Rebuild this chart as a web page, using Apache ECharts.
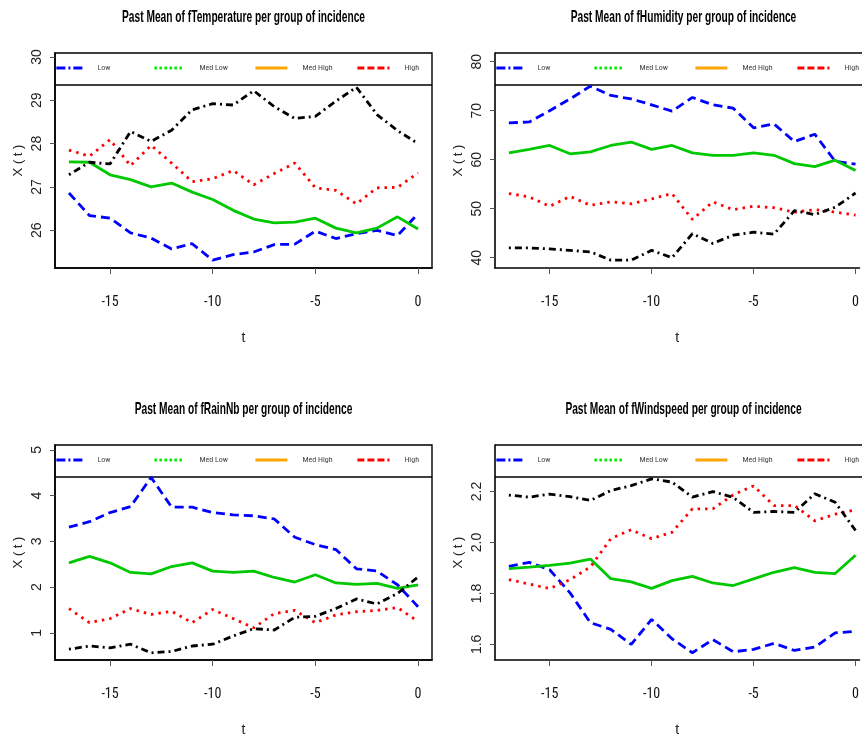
<!DOCTYPE html>
<html>
<head>
<meta charset="utf-8">
<script src="https://cdn.jsdelivr.net/npm/echarts@6/dist/echarts.min.js"></script>
<style>
html,body{margin:0;padding:0;background:#fff;overflow:hidden;}
#chart{width:862px;height:738px;}
</style>
</head>
<body>
<div id="chart"></div>
<script>
// ---- data ----
const tValues = [-17,-16,-15,-14,-13,-12,-11,-10,-9,-8,-7,-6,-5,-4,-3,-2,-1,0];
const xTicks = [-15,-10,-5,0];
const groupNames = ['Low','Med Low','Med High','High'];

const temperatureLow     = [26.86,26.34,26.28,25.94,25.82,25.57,25.69,25.31,25.44,25.50,25.67,25.68,25.98,25.81,25.92,26.00,25.88,26.38];
const temperatureMedLow  = [27.58,27.57,27.28,27.17,27.00,27.09,26.88,26.71,26.46,26.26,26.17,26.19,26.28,26.05,25.94,26.05,26.31,26.03];
const temperatureMedHigh = [27.85,27.71,28.09,27.49,27.96,27.55,27.12,27.19,27.38,27.05,27.31,27.55,26.98,26.92,26.61,26.98,26.99,27.32];
const temperatureHigh    = [27.28,27.57,27.53,28.28,28.05,28.31,28.78,28.92,28.89,29.22,28.85,28.58,28.63,28.98,29.30,28.67,28.30,28.00];
const temperatureTicks   = [26,27,28,29,30];

const humidityLow     = [67.5,67.7,70.0,72.4,75.0,73.1,72.4,71.2,69.9,72.7,71.2,70.5,66.5,67.3,63.7,65.2,59.7,59.1];
const humidityMedLow  = [61.4,62.1,62.9,61.2,61.6,62.9,63.6,62.1,62.9,61.4,60.9,60.9,61.4,60.9,59.2,58.6,59.9,57.8];
const humidityMedHigh = [53.1,52.4,50.5,52.5,50.7,51.4,51.0,52.0,53.1,47.8,51.4,49.8,50.5,50.2,49.3,49.8,49.3,48.7];
const humidityHigh    = [42.0,42.0,41.8,41.5,41.2,39.5,39.5,41.5,40.0,44.9,42.9,44.6,45.2,44.8,49.6,48.8,50.3,53.2];
const humidityTicks   = [40,50,60,70,80];

const rainLow     = [3.31,3.43,3.63,3.76,4.40,3.75,3.75,3.63,3.58,3.56,3.49,3.09,2.93,2.82,2.40,2.35,2.05,1.57];
const rainMedLow  = [2.53,2.67,2.53,2.32,2.29,2.45,2.53,2.35,2.32,2.35,2.21,2.11,2.27,2.09,2.06,2.08,1.97,2.05];
const rainMedHigh = [1.53,1.22,1.31,1.53,1.40,1.47,1.22,1.51,1.31,1.11,1.42,1.49,1.22,1.39,1.46,1.49,1.55,1.25];
const rainHigh    = [0.64,0.71,0.67,0.75,0.56,0.59,0.71,0.75,0.93,1.09,1.06,1.34,1.36,1.53,1.74,1.63,1.86,2.22];
const rainTicks   = [1,2,3,4,5];

const windLow     = [1.906,1.922,1.893,1.802,1.685,1.659,1.600,1.698,1.622,1.567,1.619,1.571,1.580,1.604,1.576,1.589,1.645,1.651];
const windMedLow  = [1.897,1.903,1.910,1.919,1.935,1.858,1.845,1.820,1.850,1.867,1.841,1.831,1.857,1.883,1.901,1.883,1.878,1.950];
const windMedHigh = [1.854,1.837,1.819,1.854,1.904,2.015,2.050,2.015,2.040,2.132,2.132,2.187,2.222,2.145,2.145,2.085,2.111,2.128];
const windHigh    = [2.186,2.178,2.190,2.180,2.165,2.204,2.223,2.250,2.237,2.178,2.200,2.177,2.118,2.122,2.118,2.191,2.158,2.047];
const windTicks   = [1.6,1.8,2.0,2.2];

// ---- layout / styles ----
const FONT = '"Liberation Sans",Arial,sans-serif';
const CFONT = '"Roboto Condensed","Liberation Sans",sans-serif';
const CHART_W = 862;
const X_MIN = -17.68, X_MAX = 0.68;
const GW = 377, GH = 215, LEG_H = 32;
const panels = [
  {title:'Past Mean of fTemperature per group of incidence', series:[temperatureLow,temperatureMedLow,temperatureMedHigh,temperatureHigh], ticks:temperatureTicks, ymin:25.13, ymax:30.09, dec:0, left:55, top:53, titleY:17.5},
  {title:'Past Mean of fHumidity per group of incidence', series:[humidityLow,humidityMedLow,humidityMedHigh,humidityHigh], ticks:humidityTicks, ymin:37.9, ymax:81.77, dec:0, left:495, top:53, titleY:17.5},
  {title:'Past Mean of fRainNb per group of incidence', series:[rainLow,rainMedLow,rainMedHigh,rainHigh], ticks:rainTicks, ymin:0.404, ymax:5.109, dec:0, left:55, top:445, titleY:409.5},
  {title:'Past Mean of fWindspeed per group of incidence', series:[windLow,windMedLow,windMedHigh,windHigh], ticks:windTicks, ymin:1.5386, ymax:2.3827, dec:1, left:495, top:445, titleY:409.5}
];
const LW = 2.8;
const lineStyles = [
  {color:'#0000FF', type:[9,5]},
  {color:'#00C800', type:'solid'},
  {color:'#FF0000', type:[2.5,5]},
  {color:'#000000', type:[2,4,7,4]}
];
const legendStyles = [
  {color:'#0000FF', type:[9,3,2,3], offset:0, width:26},
  {color:'#00EE00', type:[2.5,2.5], offset:98, width:30},
  {color:'#FFA500', type:'solid', offset:199, width:32},
  {color:'#FF0000', type:[7,3], offset:301, width:32}
];

const option = {
  animation:false,
  backgroundColor:'#fff',
  grid:[], xAxis:[], yAxis:[], series:[], legend:[], graphic:[]
};

panels.forEach((p, i) => {
  // the plot frame may run past the page edge (as in the reference): keep the scale, clip the view
  const visW = Math.min(GW, CHART_W - p.left);
  const clipped = visW < GW;
  const xMax = X_MIN + (X_MAX - X_MIN) * visW / GW;

  option.graphic.push({
    type:'text', x:p.left + GW/2, y:p.titleY, scaleX:0.6, silent:true,
    style:{text:p.title, fill:'#000', font:'bold 17px ' + FONT, textAlign:'center', textVerticalAlign:'middle'}
  });
  option.grid.push({left:p.left, top:p.top, width:visW, height:GH, show:!clipped, borderColor:'#000', borderWidth:1.4, backgroundColor:'transparent'});
  option.xAxis.push({
    type:'value', gridIndex:i, min:X_MIN, max:xMax,
    name:'t', nameLocation:'middle', nameGap:63,
    nameTextStyle:{fontFamily:FONT, fontSize:14, color:'#222'},
    axisLine:{show:true, onZero:false, lineStyle:{color:'#000', width:1.6}},
    axisTick:{show:true, length:6, lineStyle:{color:'#555', width:1}, customValues:xTicks},
    axisLabel:{fontFamily:CFONT, fontSize:14, color:'#111', margin:27, customValues:xTicks, formatter:v=>String(v)},
    splitLine:{show:false}
  });
  option.yAxis.push({
    type:'value', gridIndex:i, min:p.ymin, max:p.ymax,
    name:'X ( t )', nameLocation:'middle', nameRotate:90, nameGap:30,
    nameTextStyle:{fontFamily:FONT, fontSize:13, color:'#222'},
    axisLine:{show:true, onZero:false, lineStyle:{color:'#000', width:1.6}},
    axisTick:{show:true, length:5, lineStyle:{color:'#555', width:1}, customValues:p.ticks},
    axisLabel:{fontFamily:FONT, fontSize:14, color:'#222', margin:11, rotate:90, customValues:p.ticks, formatter:v=>v.toFixed(p.dec)},
    splitLine:{show:false}
  });
  p.series.forEach((arr, g) => {
    option.series.push({
      type:'line', name:groupNames[g], xAxisIndex:i, yAxisIndex:i,
      data:tValues.map((t,k)=>[t, arr[k]]),
      symbol:'none', showSymbol:false, silent:true,
      lineStyle:{color:lineStyles[g].color, width:LW, type:lineStyles[g].type, cap:'butt'},
      itemStyle:{color:lineStyles[g].color},
      z:2+g
    });
  });
  groupNames.forEach((n, g) => {
    const ls = legendStyles[g];
    option.legend.push({
      left:p.left + ls.offset, top:p.top + LEG_H/2 - 5, orient:'horizontal', padding:0,
      itemWidth:ls.width, itemHeight:10, itemGap:0, selectedMode:false,
      textStyle:{fontFamily:CFONT, fontSize:8, color:'#444', padding:[0,0,0,10]},
      data:[{
        name:n,
        itemStyle:{color:'rgba(0,0,0,0)', opacity:0, borderWidth:0},
        lineStyle:{color:ls.color, width:LW, type:ls.type, cap:'butt'}
      }]
    });
  });
  // legend box bottom edge
  option.graphic.push({
    type:'line', silent:true,
    shape:{x1:p.left, y1:p.top + LEG_H, x2:p.left + GW, y2:p.top + LEG_H},
    style:{stroke:'#000', lineWidth:1.4}
  });
  if (clipped) {
    // top edge of the frame (its right edge lies beyond the page)
    option.graphic.push({
      type:'line', silent:true,
      shape:{x1:p.left, y1:p.top, x2:p.left + GW, y2:p.top},
      style:{stroke:'#000', lineWidth:1.4}
    });
  }
});

const chart = echarts.init(document.getElementById('chart'), null, {renderer:'canvas'});
chart.setOption(option);
</script>
</body>
</html>
